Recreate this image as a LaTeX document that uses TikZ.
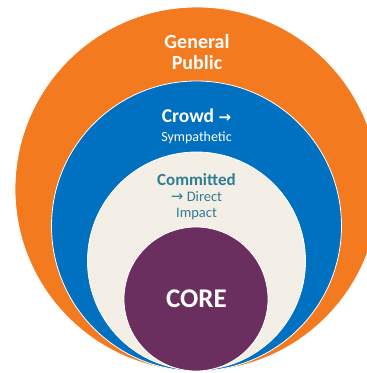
\documentclass[tikz,border=0pt]{standalone}
\usepackage{fontspec}
\setmainfont{Carlito}
\newfontfamily\arrowfont{DejaVu Sans}
\definecolor{pubOrange}{HTML}{F47A20}
\definecolor{crowdBlue}{HTML}{0070C0}
\definecolor{commitCream}{HTML}{F4EFE6}
\definecolor{corePurple}{HTML}{6A2F5F}
\definecolor{commitTeal}{HTML}{2F7D93}
\tikzset{
  ring/.style={circle, draw=white, line width=0.8pt, inner sep=0pt},
  label/.style={align=center, inner sep=0pt},
}
\newcommand{\arr}{{\arrowfont\fontsize{15}{15}\selectfont →}}
\begin{document}
\begin{tikzpicture}[x=1pt, y=-1pt]
  \useasboundingbox (0,0) rectangle (367,373);
  \clip (0,0) rectangle (367,373);
  % nested rings, all resting near the bottom edge
  \node[ring, fill=pubOrange, minimum size=364pt] (public) at (197,189) {};
  \node[ring, fill=crowdBlue, minimum size=290pt] (crowd) at (196.5,226) {};
  \node[ring, fill=commitCream, minimum size=218pt] (committed) at (196.5,261) {};
  \node[ring, fill=corePurple, minimum size=144pt] (core) at (196,299) {};
  % ring labels
  \node[label, text=white, font=\bfseries\fontsize{20}{21}\selectfont] (tpublic) at (197,52.5) {General\\Public};
  \node[label, text=white, font=\bfseries\fontsize{19.5}{20}\selectfont, anchor=base] (tcrowd) at (196.5,122) {Crowd \arr};
  \node[label, text=white, font=\fontsize{14}{14}\selectfont, anchor=base] (tsymp) at (196.5,141) {Sympathetic};
  \node[label, text=commitTeal, font=\bfseries\fontsize{17}{17}\selectfont, anchor=base] (tcommit) at (196.5,185) {Committed};
  \node[label, text=commitTeal, font=\fontsize{14.5}{14.5}\selectfont, anchor=base] (tdirect) at (196.5,201) {\arr\ Direct};
  \node[label, text=commitTeal, font=\fontsize{14.5}{14.5}\selectfont, anchor=base] (timpact) at (196.5,217) {Impact};
  \node[label, text=white, font=\bfseries\fontsize{27}{27}\selectfont] (tcore) at (196.5,299) {CORE};
\end{tikzpicture}
\end{document}
